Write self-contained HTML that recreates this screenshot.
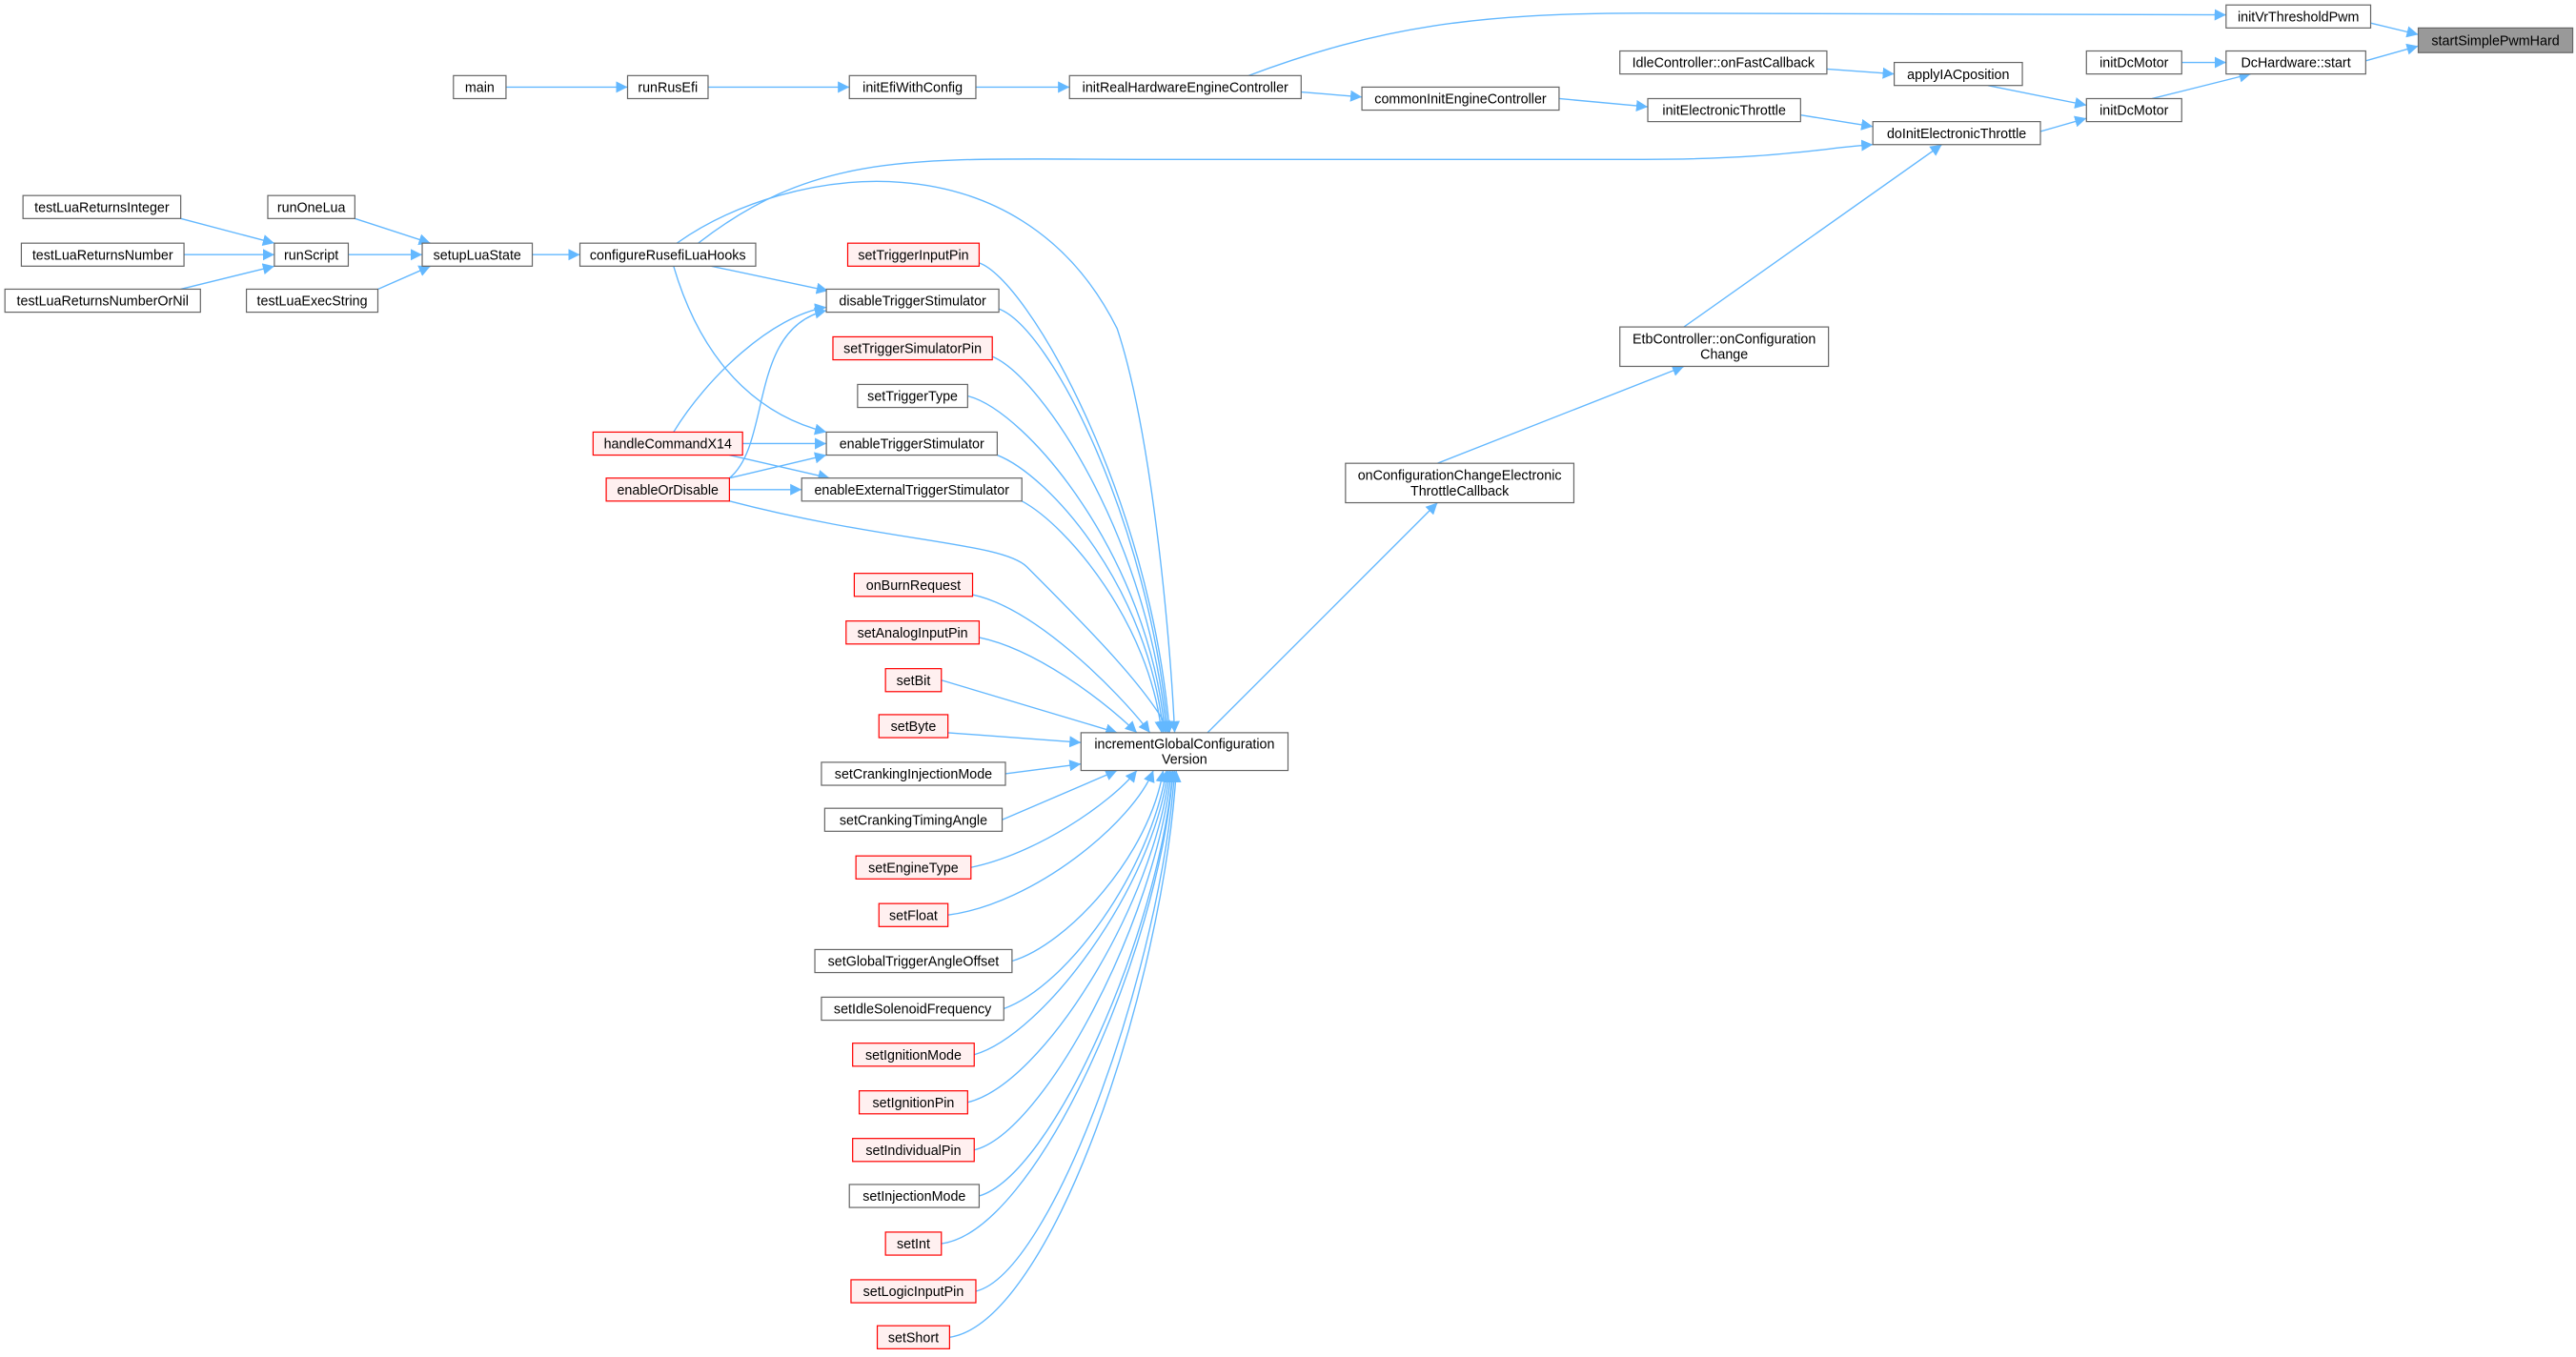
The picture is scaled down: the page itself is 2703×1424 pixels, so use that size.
<!DOCTYPE html>
<html><head><meta charset="utf-8"><style>
html,body{margin:0;padding:0;background:#fff;}
svg{display:block;}
text{font-family:"Liberation Sans",sans-serif;font-size:8.3px;fill:#000;text-anchor:middle;}
.n{fill:#fff;stroke:#666;stroke-width:0.7;}
.r{fill:#fff0f0;stroke:#ff0000;stroke-width:0.7;}
.g{fill:#999;stroke:#666;stroke-width:0.7;}
path{fill:none;stroke:#63b8ff;stroke-width:0.8;}
</style></head><body>
<svg width="2703" height="1424" viewBox="0 0 1568 826" xmlns="http://www.w3.org/2000/svg">
<defs><marker id="a" viewBox="0 0 10 10" refX="10" refY="5" markerWidth="7" markerHeight="7" markerUnits="userSpaceOnUse" orient="auto"><polygon points="0,0 10,5 0,10" fill="#63b8ff"/></marker></defs>
<g marker-end="url(#a)">
<path d="M1443,14 L1472,21"/>
<path d="M1440,37 L1472,28"/>
<path d="M1328,38 L1355,38"/>
<path d="M1310,60 L1370,45"/>
<path d="M1210,52 L1270,64"/>
<path d="M1242,80 L1270,72"/>
<path d="M1112,42 L1153,45"/>
<path d="M1096,70 L1140,77"/>
<path d="M949,60 L1003,65"/>
<path d="M792,56 L829,59"/>
<path d="M760,46 C840,16 900,8 1000,8 L1355,9"/>
<path d="M308,53 L382,53"/>
<path d="M431,53 L517,53"/>
<path d="M594,53 L651,53"/>
<path d="M425,148 C500,90 560,97 700,97 L1000,97 C1080,97 1110,90 1140,88"/>
<path d="M1025,199 L1182,88"/>
<path d="M875,282 L1025,223"/>
<path d="M735,446 L875,306"/>
<path d="M324,155 L353,155"/>
<path d="M212,155 L257,155"/>
<path d="M216,133 L262,148"/>
<path d="M230,176 L262,162"/>
<path d="M110,133 L167,148"/>
<path d="M112,155 L167,155"/>
<path d="M110,176 L167,162"/>
<path d="M433,162 L504,177"/>
<path d="M410,162 C430,230 470,255 503,263"/>
<path d="M412,148 C480,100 620,80 680,200 C700,260 712,380 715,446"/>
<path d="M410,263 C430,230 470,192 503,187"/>
<path d="M444,291 C470,270 455,200 503,189"/>
<path d="M452,270 L503,270"/>
<path d="M444,291 L503,277"/>
<path d="M444,277 L505,291"/>
<path d="M444,298 L488,298"/>
<path d="M444,305 C540,330 610,330 625,345 C660,380 700,420 712,446"/>
<!-- fans above -->
<path d="M596,160 C625,170 700,300 712,446"/>
<path d="M608,188 C640,200 700,320 711,446"/>
<path d="M604,217 C635,230 700,330 710,446"/>
<path d="M589,241 C625,250 700,340 709,446"/>
<path d="M607,277 C640,290 700,360 708,446"/>
<path d="M622,305 C650,320 700,380 707,446"/>
<path d="M592,362 C630,370 680,420 700,446"/>
<path d="M596,388 C630,395 670,425 692,446"/>
<path d="M573,414 L680,446"/>
<path d="M577,446 L658,452"/>
<!-- fans below -->
<path d="M612,471 L658,465"/>
<path d="M610,499 L680,469"/>
<path d="M591,528 C630,520 675,490 692,469"/>
<path d="M577,557 C630,550 690,500 702,469"/>
<path d="M616,585 C650,575 700,520 708,469"/>
<path d="M611,614 C650,600 700,530 710,469"/>
<path d="M593,642 C635,630 702,540 711,469"/>
<path d="M589,671 C635,660 703,550 712,469"/>
<path d="M593,700 C635,690 704,560 713,469"/>
<path d="M596,728 C640,715 705,570 714,469"/>
<path d="M573,757 C630,750 706,580 714,469"/>
<path d="M594,786 C640,775 707,590 715,469"/>
<path d="M578,814 C640,805 708,600 716,469"/>
</g>
<g>
<rect class="n" x="1355" y="3" width="88" height="14"/><text x="1399" y="13">initVrThresholdPwm</text>
<rect class="g" x="1472" y="17" width="94" height="15"/><text x="1519" y="27.5">startSimplePwmHard</text>
<rect class="n" x="1270" y="31" width="58" height="14"/><text x="1299" y="41">initDcMotor</text>
<rect class="n" x="1355" y="31" width="85" height="14"/><text x="1397.5" y="41">DcHardware::start</text>
<rect class="n" x="986" y="31" width="126" height="14"/><text x="1049" y="41">IdleController::onFastCallback</text>
<rect class="n" x="1153" y="38" width="78" height="14"/><text x="1192" y="48">applyIACposition</text>
<rect class="n" x="1270" y="60" width="58" height="14"/><text x="1299" y="70">initDcMotor</text>
<rect class="n" x="829" y="53" width="120" height="14"/><text x="889" y="63">commonInitEngineController</text>
<rect class="n" x="1003" y="60" width="93" height="14"/><text x="1049.5" y="70">initElectronicThrottle</text>
<rect class="n" x="1140" y="74" width="102" height="14"/><text x="1191" y="84">doInitElectronicThrottle</text>
<rect class="n" x="276" y="46" width="32" height="14"/><text x="292" y="56">main</text>
<rect class="n" x="382" y="46" width="49" height="14"/><text x="406.5" y="56">runRusEfi</text>
<rect class="n" x="517" y="46" width="77" height="14"/><text x="555.5" y="56">initEfiWithConfig</text>
<rect class="n" x="651" y="46" width="141" height="14"/><text x="721.5" y="56">initRealHardwareEngineController</text>
<rect class="n" x="14" y="119" width="96" height="14"/><text x="62" y="129">testLuaReturnsInteger</text>
<rect class="n" x="13" y="148" width="99" height="14"/><text x="62.5" y="158">testLuaReturnsNumber</text>
<rect class="n" x="3" y="176" width="119" height="14"/><text x="62.5" y="186">testLuaReturnsNumberOrNil</text>
<rect class="n" x="163" y="119" width="53" height="14"/><text x="189.5" y="129">runOneLua</text>
<rect class="n" x="167" y="148" width="45" height="14"/><text x="189.5" y="158">runScript</text>
<rect class="n" x="150" y="176" width="80" height="14"/><text x="190" y="186">testLuaExecString</text>
<rect class="n" x="257" y="148" width="67" height="14"/><text x="290.5" y="158">setupLuaState</text>
<rect class="n" x="353" y="148" width="107" height="14"/><text x="406.5" y="158">configureRusefiLuaHooks</text>
<rect class="r" x="516" y="148" width="80" height="14"/><text x="556" y="158">setTriggerInputPin</text>
<rect class="n" x="503" y="176" width="105" height="14"/><text x="555.5" y="186">disableTriggerStimulator</text>
<rect class="r" x="507" y="205" width="97" height="14"/><text x="555.5" y="215">setTriggerSimulatorPin</text>
<rect class="n" x="522" y="234" width="67" height="14"/><text x="555.5" y="244">setTriggerType</text>
<rect class="r" x="361" y="263" width="91" height="14"/><text x="406.5" y="273">handleCommandX14</text>
<rect class="n" x="503" y="263" width="104" height="14"/><text x="555" y="273">enableTriggerStimulator</text>
<rect class="r" x="369" y="291" width="75" height="14"/><text x="406.5" y="301">enableOrDisable</text>
<rect class="n" x="488" y="291" width="134" height="14"/><text x="555" y="301">enableExternalTriggerStimulator</text>
<rect class="r" x="520" y="349" width="72" height="14"/><text x="556" y="359">onBurnRequest</text>
<rect class="r" x="515" y="378" width="81" height="14"/><text x="555.5" y="388">setAnalogInputPin</text>
<rect class="r" x="539" y="407" width="34" height="14"/><text x="556" y="417">setBit</text>
<rect class="r" x="535" y="435" width="42" height="14"/><text x="556" y="445">setByte</text>
<rect class="n" x="500" y="464" width="112" height="14"/><text x="556" y="474">setCrankingInjectionMode</text>
<rect class="n" x="502" y="492" width="108" height="14"/><text x="556" y="502">setCrankingTimingAngle</text>
<rect class="r" x="521" y="521" width="70" height="14"/><text x="556" y="531">setEngineType</text>
<rect class="r" x="535" y="550" width="42" height="14"/><text x="556" y="560">setFloat</text>
<rect class="n" x="496" y="578" width="120" height="14"/><text x="556" y="588">setGlobalTriggerAngleOffset</text>
<rect class="n" x="500" y="607" width="111" height="14"/><text x="555.5" y="617">setIdleSolenoidFrequency</text>
<rect class="r" x="519" y="635" width="74" height="14"/><text x="556" y="645">setIgnitionMode</text>
<rect class="r" x="523" y="664" width="66" height="14"/><text x="556" y="674">setIgnitionPin</text>
<rect class="r" x="519" y="693" width="74" height="14"/><text x="556" y="703">setIndividualPin</text>
<rect class="n" x="517" y="721" width="79" height="14"/><text x="556.5" y="731">setInjectionMode</text>
<rect class="r" x="539" y="750" width="34" height="14"/><text x="556" y="760">setInt</text>
<rect class="r" x="518" y="779" width="76" height="14"/><text x="556" y="789">setLogicInputPin</text>
<rect class="r" x="534" y="807" width="44" height="14"/><text x="556" y="817">setShort</text>
<rect class="n" x="658" y="446" width="126" height="23"/><text x="721" y="455.5">incrementGlobalConfiguration</text><text x="721" y="465">Version</text>
<rect class="n" x="819" y="282" width="139" height="24"/><text x="888.5" y="292">onConfigurationChangeElectronic</text><text x="888.5" y="301.5">ThrottleCallback</text>
<rect class="n" x="986" y="199" width="127" height="24"/><text x="1049.5" y="209">EtbController::onConfiguration</text><text x="1049.5" y="218.5">Change</text>
</g>
</svg>
</body></html>
